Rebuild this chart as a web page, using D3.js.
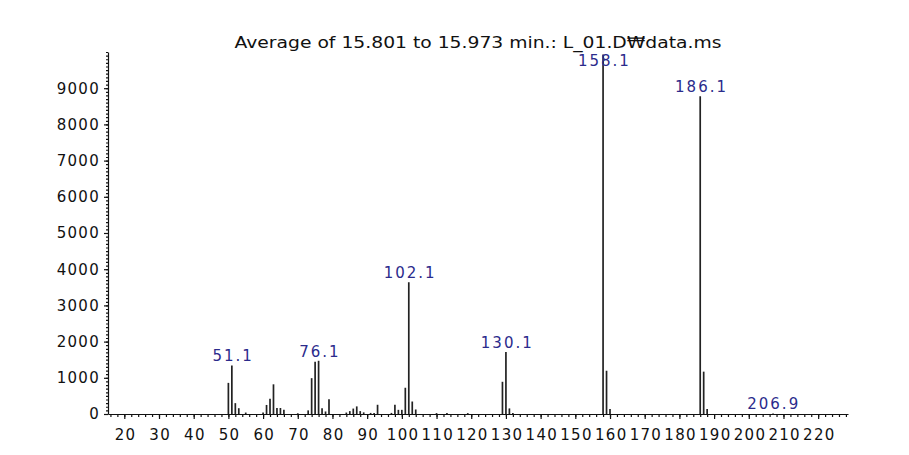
<!DOCTYPE html>
<html>
<head>
<meta charset="utf-8">
<script src="https://cdn.jsdelivr.net/npm/d3@7"></script>
<style>
  body { margin: 0; background: #fff; }
  svg text { font-family: "DejaVu Sans", sans-serif; }
</style>
</head>
<body>
<script>
// mass spectrum, averaged scan
var title = "Average of 15.801 to 15.973 min.: L_01.D\u20A9data.ms";

var mz = [50, 51, 52, 53, 55, 60, 61, 62, 63, 64, 65, 66, 70, 73, 74, 75, 76, 77, 78, 79,
          84, 85, 86, 87, 88, 89, 91, 92, 93, 97, 98, 99, 100, 101, 102, 103, 104,
          110, 113, 119, 129, 130, 131, 132, 158, 159, 160, 186, 187, 188, 207];
var abundance = [860, 1340, 300, 160, 40, 40, 250, 420, 820, 165, 165, 120, 20, 100, 990, 1440, 1470, 160, 70, 410,
                 40, 80, 150, 210, 80, 45, 30, 30, 255, 30, 255, 115, 115, 725, 3640, 345, 125,
                 25, 25, 25, 890, 1710, 155, 30, 9930, 1195, 140, 8780, 1170, 140, 15];

var peakLabels = [51.1, 76.1, 102.1, 130.1, 158.1, 186.1, 206.9];

var xMajor = d3.range(20, 221, 10);
var xMinor = d3.range(16, 229, 2);
var yMajor = d3.range(0, 9001, 1000);
var yMinor = d3.range(0, 10001, 100);

var width = 909, height = 455;

var svg = d3.select("body").append("svg")
    .attr("width", width)
    .attr("height", height);

var x = d3.scaleLinear().domain([15.3, 228.6]).range([108, 848]);
var y = d3.scaleLinear().domain([0, 10000]).range([414, 52]);

svg.append("text")
    .attr("x", 478)
    .attr("y", 48)
    .attr("text-anchor", "middle")
    .attr("font-size", 15)
    .attr("fill", "#111")
    .attr("textLength", 487)
    .attr("lengthAdjust", "spacingAndGlyphs")
    .text(title);

// x axis: minor ticks then labelled ones
svg.append("g")
    .attr("transform", "translate(0," + y(0) + ")")
    .call(d3.axisBottom(x).tickValues(xMinor).tickSize(3).tickSizeOuter(0).tickFormat(""))
    .call(function (g) { g.select(".domain").remove(); });

var xa = svg.append("g")
    .attr("transform", "translate(0," + y(0) + ")")
    .call(d3.axisBottom(x).tickValues(xMajor).tickSize(5).tickSizeOuter(0).tickPadding(10).tickFormat(d3.format("d")));
xa.selectAll("text").attr("font-size", 15).attr("fill", "#111")
    .attr("font-family", "DejaVu Sans").attr("letter-spacing", 1.3).attr("dx", 0.7);

// y axis
svg.append("g")
    .attr("transform", "translate(" + x.range()[0] + ",0)")
    .call(d3.axisLeft(y).tickValues(yMinor).tickSize(2).tickSizeOuter(0).tickFormat(""))
    .call(function (g) { g.select(".domain").remove(); });

var ya = svg.append("g")
    .attr("transform", "translate(" + x.range()[0] + ",0)")
    .call(d3.axisLeft(y).tickValues(yMajor).tickSize(4).tickSizeOuter(0).tickPadding(4).tickFormat(d3.format("d")));
ya.selectAll("text").attr("font-size", 15).attr("fill", "#111")
    .attr("font-family", "DejaVu Sans").attr("letter-spacing", 1.3);

svg.selectAll(".domain, .tick line").attr("stroke", "#111").attr("stroke-width", 1.2);

// peaks
var peaks = mz.map(function (m, i) { return { mz: m, v: abundance[i] }; });

svg.append("g")
    .selectAll("line")
    .data(peaks)
    .enter().append("line")
    .attr("x1", function (d) { return x(d.mz); })
    .attr("x2", function (d) { return x(d.mz); })
    .attr("y1", y(0))
    .attr("y2", function (d) { return y(d.v); })
    .attr("stroke", "#222")
    .attr("stroke-width", 1.7);

// peak labels sit just above their peak, but never above the title line
svg.append("g")
    .selectAll("text")
    .data(peakLabels)
    .enter().append("text")
    .attr("x", function (d) { return x(d); })
    .attr("y", function (d) {
        var p = peaks.find(function (q) { return q.mz === Math.round(d); });
        return Math.max(y(p.v) - 4, 66);
    })
    .attr("text-anchor", "middle")
    .attr("font-size", 15)
    .attr("fill", "#2b2b8c")
    .attr("letter-spacing", 2)
    .attr("dx", 1)
    .text(function (d) { return d.toFixed(1); });
</script>
</body>
</html>
